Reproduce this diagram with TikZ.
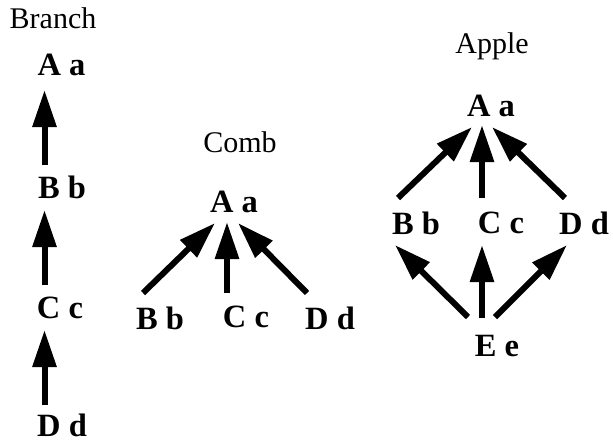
\documentclass[tikz,border=0pt]{standalone}
\usepackage{fontspec}
\setmainfont{Liberation Serif}
\usetikzlibrary{arrows.meta}
\tikzset{
  lbl/.style={inner sep=0pt, font=\fontsize{32.5}{34}\selectfont\bfseries},
  ttl/.style={inner sep=0pt, anchor=base, font=\fontsize{30}{32}\selectfont},
  arr/.style={line width=6pt, -{Triangle[length=37pt,width=23pt]}}
}
\begin{document}
\begin{tikzpicture}[x=1pt,y=-1pt]
\useasboundingbox (0,0) rectangle (613,445);
% Branch
\node[ttl] (tb) at (53,28) {Branch};
\node[lbl] (bA) at (61.5,65) {A a};
\node[lbl] (bB) at (62,187) {B b};
\node[lbl] (bC) at (60,308) {C c};
\node[lbl] (bD) at (62,425) {D d};
\draw[arr] ([shift={(-17.5,-22)}]bB.center) -- ([shift={(-17,25)}]bA.center);
\draw[arr] ([shift={(-15.5,-23)}]bC.center) -- ([shift={(-17.5,23)}]bB.center);
\draw[arr] ([shift={(-17.5,-20)}]bD.center) -- ([shift={(-15.5,22)}]bC.center);
% Comb
\node[ttl] (tc) at (240,152) {Comb};
\node[lbl] (cA) at (234,202) {A a};
\node[lbl] (cB) at (160,318) {B b};
\node[lbl] (cC) at (246,317) {C c};
\node[lbl] (cD) at (330,318) {D d};
\draw[arr] ([shift={(-17,-25)}]cB.center) -- ([shift={(-19,21)}]cA.center);
\draw[arr] ([shift={(-19,-24)}]cC.center) -- ([shift={(-7,20)}]cA.center);
\draw[arr] ([shift={(-23,-25)}]cD.center) -- ([shift={(4,21)}]cA.center);
% Apple
\node[ttl] (ta) at (492,53) {Apple};
\node[lbl] (aA) at (491,106) {A a};
\node[lbl] (aB) at (416,223) {B b};
\node[lbl] (aC) at (501,223) {C c};
\node[lbl] (aD) at (584,223) {D d};
\node[lbl] (aE) at (497,346) {E e};
\draw[arr] ([shift={(-18,-25)}]aB.center) -- ([shift={(-19,21)}]aA.center);
\draw[arr] ([shift={(-19,-25)}]aC.center) -- ([shift={(-9,19)}]aA.center);
\draw[arr] ([shift={(-19,-25)}]aD.center) -- ([shift={(1,21)}]aA.center);
\draw[arr] ([shift={(-29,-29)}]aE.center) -- ([shift={(-21,22)}]aB.center);
\draw[arr] ([shift={(-15,-28)}]aE.center) -- ([shift={(-19,22)}]aC.center);
\draw[arr] ([shift={(-2,-29)}]aE.center) -- ([shift={(-17,22)}]aD.center);
\end{tikzpicture}
\end{document}
